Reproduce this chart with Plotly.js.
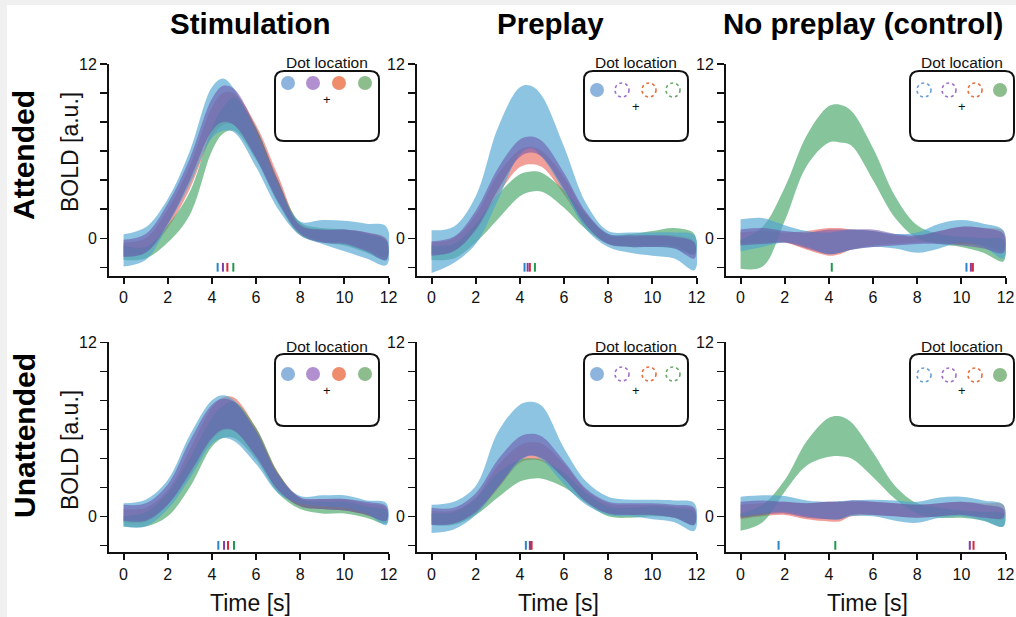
<!DOCTYPE html>
<html><head><meta charset="utf-8">
<script src="https://cdn.plot.ly/plotly-3.0.1.min.js"></script>
<style>html,body{margin:0;padding:0;background:#f0f0f0}#chart{width:1016px;height:617px}</style>
</head><body><div id="chart"></div><script>
// ---------------- DATA ----------------
const times = [0, 1, 2, 3, 4, 4.5, 5, 6, 7, 8, 9, 10, 11, 11.9];
const columns = ["Stimulation", "Preplay", "No preplay (control)"];
const rows = ["Attended", "Unattended"];
const series = ["blue", "purple", "red", "green"];
const xTicks = [0, 2, 4, 6, 8, 10, 12];
const yTicks = [-2, 0, 2, 4, 6, 8, 10, 12];
const yTickText = ["", "0", "", "", "", "", "", "12"];

// Stimulation / Attended
const sa_blue_hi   = [0.27, 0.75, 2.7, 6.0, 10.4, 11.0, 10.3, 7.2, 3.6, 1.15, 1.25, 1.2, 1.0, 0.8];
const sa_blue_lo   = [-1.95, -1.5, 0.9, 3.7, 6.9, 7.4, 7.3, 4.9, 2.0, 0.2, -0.4, -0.9, -1.4, -1.85];
const sa_purple_hi = [-0.1, 0.3, 2.4, 5.5, 9.6, 10.5, 10.3, 7.6, 4.0, 0.9, 0.6, 0.6, 0.4, -0.1];
const sa_purple_lo = [-1.3, -1.0, 1.0, 4.0, 7.4, 8.0, 7.8, 5.5, 2.5, 0.3, -0.3, -0.4, -0.9, -1.5];
const sa_red_hi    = [-0.3, 0.0, 2.0, 5.0, 9.0, 10.0, 10.0, 7.8, 4.3, 1.0, 0.6, 0.6, 0.4, 0.0];
const sa_red_lo    = [-1.2, -1.0, 0.7, 3.4, 7.0, 7.8, 7.8, 5.6, 2.6, 0.4, -0.2, -0.3, -0.8, -1.3];
const sa_green_hi  = [-0.5, -0.6, 0.9, 3.2, 7.6, 9.0, 9.7, 7.6, 3.9, 1.1, 0.7, 0.6, 0.3, -0.2];
const sa_green_lo  = [-1.5, -1.4, -0.3, 1.6, 6.0, 7.2, 7.4, 5.4, 2.4, 0.2, -0.3, -0.5, -1.0, -1.5];
const sa_peaks     = [4.26, 4.5, 4.7, 4.97];

// Preplay / Attended
const pa_blue_hi   = [0.55, 0.8, 2.9, 7.6, 10.4, 10.5, 9.8, 6.3, 2.4, 0.5, 0.4, 0.4, 0.4, 0.2];
const pa_blue_lo   = [-2.4, -1.7, -0.4, 2.6, 5.8, 6.2, 5.6, 3.2, 0.6, -0.6, -1.0, -1.2, -1.4, -2.2];
const pa_purple_hi = [-0.2, 0.1, 1.9, 4.8, 6.8, 7.0, 6.7, 4.5, 1.8, 0.3, 0.2, 0.2, 0.1, -0.3];
const pa_purple_lo = [-1.2, -0.9, 0.6, 3.3, 5.6, 5.9, 5.6, 3.4, 0.9, -0.4, -0.6, -0.6, -0.7, -1.4];
const pa_red_hi    = [-0.3, 0.0, 1.6, 4.4, 6.1, 6.3, 6.0, 4.2, 1.7, 0.2, 0.1, 0.2, 0.2, -0.2];
const pa_red_lo    = [-1.1, -0.9, 0.5, 3.0, 4.9, 5.1, 4.9, 3.0, 0.8, -0.4, -0.5, -0.5, -0.5, -1.1];
const pa_green_hi  = [-0.5, -0.4, 1.0, 3.0, 4.4, 4.6, 4.5, 3.3, 1.6, 0.3, 0.3, 0.5, 0.7, 0.3];
const pa_green_lo  = [-1.5, -1.4, -0.3, 1.3, 2.9, 3.2, 3.2, 2.1, 0.6, -0.4, -0.6, -0.6, -0.7, -1.1];
const pa_peaks     = [4.21, 4.35, 4.45, 4.68];

// No preplay / Attended
const na_blue_hi   = [1.3, 1.4, 0.9, 0.5, 0.4, 0.5, 0.6, 0.5, 0.3, 0.4, 1.0, 1.25, 1.0, 0.55];
const na_blue_lo   = [-0.9, -0.6, -0.3, -0.6, -1.1, -1.0, -0.8, -0.6, -0.7, -1.0, -0.7, -0.3, -0.6, -1.4];
const na_purple_hi = [0.6, 0.7, 0.5, 0.4, 0.6, 0.6, 0.6, 0.6, 0.3, 0.2, 0.5, 0.8, 0.7, 0.3];
const na_purple_lo = [-0.5, -0.4, -0.3, -0.7, -1.1, -1.0, -0.8, -0.6, -0.5, -0.4, -0.4, -0.5, -0.7, -1.0];
const na_red_hi    = [0.4, 0.5, 0.4, 0.5, 0.7, 0.7, 0.6, 0.5, 0.2, 0.1, 0.5, 0.8, 0.7, 0.5];
const na_red_lo    = [-0.4, -0.3, -0.3, -0.8, -1.2, -1.1, -0.8, -0.5, -0.4, -0.3, -0.3, -0.4, -0.5, -0.8];
const na_green_hi  = [-0.1, 0.8, 3.5, 7.1, 9.1, 9.2, 8.8, 6.2, 2.9, 0.9, 0.3, 0.1, 0.0, -0.1];
const na_green_lo  = [-2.1, -1.95, 1.2, 5.0, 6.6, 6.6, 6.4, 4.0, 1.4, 0.0, -0.4, -0.6, -1.0, -1.6];
const na_peaks     = [10.23, 10.43, 10.52, 4.13];

// Stimulation / Unattended
const su_blue_hi   = [0.9, 1.15, 2.5, 5.6, 8.0, 8.35, 8.0, 5.8, 2.8, 1.4, 1.45, 1.45, 1.1, 0.9];
const su_blue_lo   = [-0.7, -0.7, 0.5, 2.6, 5.0, 5.4, 5.2, 3.6, 1.6, 0.9, 0.7, 0.6, 0.2, -0.6];
const su_purple_hi = [0.8, 0.9, 2.2, 5.2, 7.7, 8.1, 7.9, 5.9, 2.9, 1.3, 1.2, 1.2, 1.0, 0.7];
const su_purple_lo = [-0.3, -0.3, 0.8, 3.0, 5.4, 6.0, 5.9, 4.1, 1.8, 0.7, 0.5, 0.4, 0.1, -0.3];
const su_red_hi    = [0.5, 0.6, 1.8, 4.6, 7.5, 8.2, 8.2, 6.1, 3.0, 1.3, 1.2, 1.2, 0.9, 0.6];
const su_red_lo    = [-0.4, -0.4, 0.8, 2.8, 5.3, 5.9, 5.9, 4.2, 1.8, 0.7, 0.5, 0.4, 0.1, -0.3];
const su_green_hi  = [0.0, 0.3, 1.6, 4.0, 6.8, 7.6, 7.9, 6.1, 3.0, 1.2, 1.0, 1.0, 0.7, 0.4];
const su_green_lo  = [-0.7, -0.7, 0.0, 2.0, 4.8, 5.4, 5.4, 3.9, 1.6, 0.5, 0.2, 0.2, -0.1, -0.5];
const su_peaks     = [4.29, 4.55, 4.73, 5.0];

// Preplay / Unattended
const pu_blue_hi   = [0.8, 1.0, 2.1, 5.8, 7.7, 7.9, 7.6, 4.7, 2.4, 1.35, 1.15, 1.15, 1.1, 0.9];
const pu_blue_lo   = [-1.15, -0.9, 0.1, 2.0, 3.8, 4.2, 3.9, 2.2, 0.8, 0.1, 0.0, -0.2, -0.4, -1.0];
const pu_purple_hi = [0.6, 0.6, 1.6, 3.9, 5.5, 5.7, 5.5, 3.8, 1.9, 1.0, 0.9, 0.9, 0.8, 0.6];
const pu_purple_lo = [-0.6, -0.5, 0.3, 2.0, 3.9, 4.2, 4.0, 2.6, 1.0, 0.2, 0.1, 0.1, -0.1, -0.6];
const pu_red_hi    = [0.4, 0.4, 1.3, 3.5, 4.9, 5.1, 5.0, 3.6, 1.8, 0.9, 0.8, 0.8, 0.7, 0.5];
const pu_red_lo    = [-0.5, -0.5, 0.2, 1.9, 3.7, 3.9, 3.8, 2.6, 1.0, 0.2, 0.1, 0.1, -0.1, -0.5];
const pu_green_hi  = [0.2, 0.3, 1.2, 3.0, 3.9, 4.0, 3.9, 3.0, 1.6, 0.7, 0.6, 0.7, 0.6, 0.3];
const pu_green_lo  = [-0.6, -0.6, 0.1, 1.3, 2.4, 2.6, 2.6, 2.0, 0.9, 0.0, -0.1, 0.0, -0.1, -0.6];
const pu_peaks     = [4.27, 4.45, 4.53, 4.47];

// No preplay / Unattended
const nu_blue_hi   = [1.35, 1.45, 1.4, 1.1, 1.0, 1.05, 1.1, 1.15, 1.1, 1.0, 1.3, 1.35, 1.1, 0.8];
const nu_blue_lo   = [0.0, 0.2, 0.3, 0.0, -0.2, -0.2, 0.0, 0.0, -0.3, -0.45, -0.1, 0.0, -0.3, -0.7];
const nu_purple_hi = [1.0, 1.1, 1.0, 0.9, 1.0, 1.0, 1.1, 1.0, 0.9, 0.8, 0.9, 1.0, 0.8, 0.5];
const nu_purple_lo = [-0.1, 0.1, 0.2, -0.1, -0.2, -0.2, 0.1, 0.1, 0.0, -0.1, 0.0, 0.1, -0.1, -0.1];
const nu_red_hi    = [0.8, 0.9, 1.0, 0.9, 1.0, 1.0, 1.0, 1.0, 0.9, 0.8, 0.9, 1.0, 0.9, 0.8];
const nu_red_lo    = [-0.2, 0.0, 0.1, -0.2, -0.35, -0.35, 0.0, 0.1, 0.0, -0.1, 0.0, 0.1, 0.0, -0.2];
const nu_green_hi  = [0.2, 0.8, 2.5, 5.2, 6.8, 6.9, 6.5, 4.4, 2.1, 0.9, 0.6, 0.4, 0.3, 0.2];
const nu_green_lo  = [-1.0, -0.4, 1.7, 3.5, 4.1, 4.15, 4.0, 2.7, 1.2, 0.2, -0.1, -0.1, -0.3, -0.7];
const nu_peaks     = [1.72, 10.38, 10.55, 4.29];

// which dot in the legend is filled (1) or dotted (0), per column
const filledStim   = [1, 1, 1, 1];
const filledPrep   = [1, 0, 0, 0];
const filledNoPrep = [0, 0, 0, 1];

// ---------------- STYLE ----------------
const W = 1016, H = 617;
const FONT = "Liberation Sans, Arial, Helvetica, sans-serif";
const bandColor = {blue: "rgba(80,165,210,0.65)", purple: "rgba(105,80,170,0.55)",
                   red: "rgba(235,95,85,0.6)", green: "rgba(60,160,95,0.62)"};
const peakColor = {blue: "#2b86c8", purple: "#7d3fa8", red: "#d8283a", green: "#1f9a4c"};
const dotFill   = {blue: "#8db4dc", purple: "#b290cf", red: "#ef8c6b", green: "#8dbd8d"};
const dotLine   = {blue: "#6a9fd6", purple: "#a070c8", red: "#e8703f", green: "#6aaa6a"};
const drawOrder = ["red", "green", "blue", "purple"];

const fx = p => p / W;
const fy = p => 1 - p / H;

// panel pixel geometry
const colPx = [[109, 389], [417, 697], [726, 1006]];
const rowPx = [[64, 276], [342.3, 552.3]];
const yRanges = [[-2.6, 12], [-2.48, 12]];

const panels = [
  {r:0, c:0, d:{blue:[sa_blue_hi,sa_blue_lo], purple:[sa_purple_hi,sa_purple_lo], red:[sa_red_hi,sa_red_lo], green:[sa_green_hi,sa_green_lo]}, peaks: sa_peaks, filled: filledStim},
  {r:0, c:1, d:{blue:[pa_blue_hi,pa_blue_lo], purple:[pa_purple_hi,pa_purple_lo], red:[pa_red_hi,pa_red_lo], green:[pa_green_hi,pa_green_lo]}, peaks: pa_peaks, filled: filledPrep},
  {r:0, c:2, d:{blue:[na_blue_hi,na_blue_lo], purple:[na_purple_hi,na_purple_lo], red:[na_red_hi,na_red_lo], green:[na_green_hi,na_green_lo]}, peaks: na_peaks, filled: filledNoPrep},
  {r:1, c:0, d:{blue:[su_blue_hi,su_blue_lo], purple:[su_purple_hi,su_purple_lo], red:[su_red_hi,su_red_lo], green:[su_green_hi,su_green_lo]}, peaks: su_peaks, filled: filledStim},
  {r:1, c:1, d:{blue:[pu_blue_hi,pu_blue_lo], purple:[pu_purple_hi,pu_purple_lo], red:[pu_red_hi,pu_red_lo], green:[pu_green_hi,pu_green_lo]}, peaks: pu_peaks, filled: filledPrep},
  {r:1, c:2, d:{blue:[nu_blue_hi,nu_blue_lo], purple:[nu_purple_hi,nu_purple_lo], red:[nu_red_hi,nu_red_lo], green:[nu_green_hi,nu_green_lo]}, peaks: nu_peaks, filled: filledNoPrep}
];

// legend geometry per column / row
const legCircleX = [[288, 313, 339, 365], [597, 622, 649, 673], [924, 949, 975, 1000]];
const legBoxX = [[275, 379], [584, 688], [910, 1014]];
const legBoxY = [[71, 141], [354, 426]];
const legCircleY = [[83, 90, 90], [374, 374, 375]];
const legPlusY = [[99, 107, 107], [390, 390, 390]];
const legTextY = [62, 346];

const traces = [];
const layout = {
  width: W, height: H, margin: {l:0, r:0, t:0, b:0},
  paper_bgcolor: "#f0f0f0", plot_bgcolor: "rgba(0,0,0,0)",
  showlegend: false, font: {family: FONT, color: "#111"},
  shapes: [], annotations: []
};
layout.shapes.push({type:"rect", xref:"paper", yref:"paper", x0:fx(7), x1:1, y0:0, y1:fy(5),
  fillcolor:"#ffffff", line:{width:0}, layer:"below"});

const revT = times.slice().reverse();
panels.forEach((p, i) => {
  const n = i + 1;
  const xa = "x" + (n === 1 ? "" : n), ya = "y" + (n === 1 ? "" : n);
  const xk = "xaxis" + (n === 1 ? "" : n), yk = "yaxis" + (n === 1 ? "" : n);
  const cp = colPx[p.c], rp = rowPx[p.r];
  layout[xk] = {domain:[fx(cp[0]), fx(cp[1])], range:[-0.66, 12.02], anchor: ya,
    showline:true, linewidth:2, linecolor:"#111", ticks:"outside", ticklen:6, tickwidth:2, tickcolor:"#111",
    tickvals: xTicks, ticktext: xTicks.map(String), tickfont:{size:16, family:FONT, color:"#111"},
    showgrid:false, zeroline:false, fixedrange:true};
  layout[yk] = {domain:[fy(rp[1]), fy(rp[0])], range: yRanges[p.r], anchor: xa,
    showline:true, linewidth:2, linecolor:"#111", ticks:"outside", ticklen:7, tickwidth:1.5, tickcolor:"#111",
    tickvals: yTicks, ticktext: yTickText, tickfont:{size:16, family:FONT, color:"#111"},
    showgrid:false, zeroline:false, fixedrange:true};

  drawOrder.forEach(s => {
    const [hi, lo] = p.d[s];
    traces.push({x: times.concat(revT), y: hi.concat(lo.slice().reverse()), xaxis: xa, yaxis: ya,
      type:"scatter", mode:"lines", fill:"toself", fillcolor: bandColor[s],
      line:{width:0, shape:"spline", smoothing:1, color: bandColor[s]}, hoverinfo:"skip"});
  });
  // peak latency markers
  ["green", "blue", "purple", "red"].forEach(s => {
    const t = p.peaks[series.indexOf(s)];
    traces.push({x:[t, t], y:[-1.7, -2.3], xaxis: xa, yaxis: ya, type:"scatter", mode:"lines",
      line:{color: peakColor[s], width:2}, hoverinfo:"skip"});
  });

  // legend box
  const bx = legBoxX[p.c], by = legBoxY[p.r], rr = 9;
  const X = v => fx(v), Y = v => fy(v);
  layout.shapes.push({type:"path", xref:"paper", yref:"paper", line:{color:"#111", width:2},
    path: `M ${X(bx[0]+rr)},${Y(by[0])} L ${X(bx[1]-rr)},${Y(by[0])} Q ${X(bx[1])},${Y(by[0])} ${X(bx[1])},${Y(by[0]+rr)} ` +
          `L ${X(bx[1])},${Y(by[1]-rr)} Q ${X(bx[1])},${Y(by[1])} ${X(bx[1]-rr)},${Y(by[1])} ` +
          `L ${X(bx[0]+rr)},${Y(by[1])} Q ${X(bx[0])},${Y(by[1])} ${X(bx[0])},${Y(by[1]-rr)} ` +
          `L ${X(bx[0])},${Y(by[0]+rr)} Q ${X(bx[0])},${Y(by[0])} ${X(bx[0]+rr)},${Y(by[0])} Z`});
  const cy = legCircleY[p.r][p.c], rad = 7;
  series.forEach((s, k) => {
    const cx = legCircleX[p.c][k];
    const filled = p.filled[k] === 1;
    layout.shapes.push({type:"circle", xref:"paper", yref:"paper",
      x0:X(cx-rad), x1:X(cx+rad), y0:Y(cy+rad), y1:Y(cy-rad),
      fillcolor: filled ? dotFill[s] : "rgba(0,0,0,0)",
      line: filled ? {width:0} : {color: dotLine[s], width:1.6, dash:"dot"}});
  });
  const midX = (bx[0] + bx[1]) / 2;
  layout.annotations.push({xref:"paper", yref:"paper", x:X(midX), y:Y(legTextY[p.r]), text:"Dot location",
    showarrow:false, xanchor:"center", yanchor:"middle", font:{size:15.5, family:FONT, color:"#111"}});
  layout.annotations.push({xref:"paper", yref:"paper", x:X(midX), y:Y(legPlusY[p.r][p.c]), text:"+",
    showarrow:false, xanchor:"center", yanchor:"middle", font:{size:13, family:FONT, color:"#111"}});

  if (p.r === 1) {
    layout.annotations.push({xref:"paper", yref:"paper", x:fx((cp[0]+cp[1])/2 + 1.5), y:fy(603), text:"Time [s]",
      showarrow:false, xanchor:"center", yanchor:"middle", font:{size:23, family:FONT, color:"#111"}});
  }
});

// column titles
const colTitleX = [250, 550, 863];
columns.forEach((t, c) => layout.annotations.push({xref:"paper", yref:"paper", x:fx(colTitleX[c]), y:fy(24),
  text:"<b>" + t + "</b>", showarrow:false, xanchor:"center", yanchor:"middle", font:{size:29.5, family:FONT, color:"#000"}}));
// row titles
const rowTitleY = [155, 436];
const boldY = [152, 450];
rows.forEach((t, r) => {
  layout.annotations.push({xref:"paper", yref:"paper", x:fx(24), y:fy(rowTitleY[r]), text:"<b>" + t + "</b>",
    textangle:-90, showarrow:false, xanchor:"center", yanchor:"middle", font:{size:30, family:FONT, color:"#000"}});
  layout.annotations.push({xref:"paper", yref:"paper", x:fx(70), y:fy(boldY[r]), text:"BOLD [a.u.]",
    textangle:-90, showarrow:false, xanchor:"center", yanchor:"middle", font:{size:23, family:FONT, color:"#111"}});
});

Plotly.newPlot("chart", traces, layout, {staticPlot:true, displayModeBar:false});
</script></body></html>
